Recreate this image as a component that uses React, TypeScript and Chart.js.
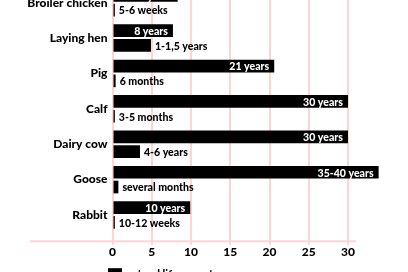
import React, { useEffect, useRef } from 'react';
import { Chart, registerables } from 'chart.js';

Chart.register(...registerables);

const categories = ['Broiler chicken', 'Laying hen', 'Pig', 'Calf', 'Dairy cow', 'Goose', 'Rabbit'];
const naturalLife = [8.3, 7.7, 20.6, 30, 30, 33.9, 9.9];
const naturalLabels = ['8 years', '8 years', '21 years', '30 years', '30 years', '35-40 years', '10 years'];
const slaughterAge = [0.3, 4.9, 0.4, 0.3, 3.5, 0.75, 0.3];
const slaughterLabels = ['5-6 weeks', '1-1,5 years', '6 months', '3-5 months', '4-6 years', 'several months', '10-12 weeks'];
const seriesNames = ['natural life expectancy', 'actual slaughter age'];
const xMin = 0;
const xMax = 30;
const xStep = 5;

const FONT_FAMILY = "Lato, Roboto, 'DejaVu Sans Condensed', sans-serif";
const FONT_WEIGHT = '900';
const PINK = 'rgb(255, 212, 212)';

const CANVAS_W = 408;
const CANVAS_H = 333;
const OFFSET_TOP = 30;

function drawNarrowText(ctx: any, text: string, x: number, y: number, align: 'left' | 'right', sx: number) {
  ctx.save();
  ctx.translate(x, y);
  ctx.scale(sx, 1);
  ctx.textAlign = align;
  ctx.fillText(text, 0, 0);
  ctx.restore();
}

const labelPlugin = {
  id: 'barLabels',
  afterDatasetsDraw(chart: any) {
    const ctx = chart.ctx;
    ctx.save();
    ctx.font = `${FONT_WEIGHT} 12px ${FONT_FAMILY}`;
    ctx.textBaseline = 'middle';
    chart.data.datasets.forEach((ds: any, di: number) => {
      const meta = chart.getDatasetMeta(di);
      meta.data.forEach((el: any, i: number) => {
        if (di === 0) {
          ctx.fillStyle = '#ffffff';
          drawNarrowText(ctx, naturalLabels[i], el.x - 5, el.y + 0.5, 'right', 0.88);
        } else {
          ctx.fillStyle = '#000000';
          drawNarrowText(ctx, slaughterLabels[i], el.x + 4, el.y + 0.5, 'left', 0.88);
        }
      });
    });
    ctx.restore();
  },
};

const axisLinePlugin = {
  id: 'axisLine',
  beforeDatasetsDraw(chart: any) {
    const ctx = chart.ctx;
    const y = chart.chartArea.bottom + 8.5;
    ctx.save();
    ctx.strokeStyle = PINK;
    ctx.lineWidth = 2;
    ctx.beginPath();
    ctx.moveTo(30, y);
    ctx.lineTo(356, y);
    ctx.stroke();
    ctx.restore();
  },
};

const legendPlugin = {
  id: 'customLegend',
  afterDraw(chart: any) {
    const ctx = chart.ctx;
    ctx.save();
    ctx.font = `${FONT_WEIGHT} 12px ${FONT_FAMILY}`;
    ctx.textBaseline = 'middle';
    seriesNames.forEach((name, i) => {
      const cy = chart.chartArea.bottom + 41.5 + i * 20;
      ctx.fillStyle = '#000000';
      ctx.fillRect(108, cy - 6, 14, 12);
      drawNarrowText(ctx, name, 126, cy, 'left', 0.9);
    });
    ctx.restore();
  },
};

export default function App() {
  const canvasRef = useRef<HTMLCanvasElement | null>(null);

  useEffect(() => {
    if (!canvasRef.current) return;
    const chart = new Chart(canvasRef.current, {
      type: 'bar',
      data: {
        labels: categories,
        datasets: [
          {
            label: seriesNames[0],
            data: naturalLife,
            backgroundColor: '#000000',
            borderWidth: 0,
            barPercentage: 0.86,
            categoryPercentage: 0.835,
            clip: false as any,
          },
          {
            label: seriesNames[1],
            data: slaughterAge,
            backgroundColor: '#000000',
            borderWidth: 0,
            barPercentage: 0.86,
            categoryPercentage: 0.835,
            clip: false as any,
          },
        ],
      },
      options: {
        indexAxis: 'y',
        responsive: false,
        animation: false,
        devicePixelRatio: 1,
        layout: { padding: { top: 15, bottom: 40.3, left: 0, right: 60 } },
        plugins: {
          legend: { display: false },
          tooltip: { enabled: false },
        },
        scales: {
          x: {
            type: 'linear',
            min: xMin,
            max: xMax,
            grid: { color: PINK, lineWidth: 2, tickLength: 12, drawTicks: true },
            border: { display: false },
            ticks: {
              stepSize: xStep,
              padding: 0,
              color: '#000000',
              font: { family: FONT_FAMILY, size: 12, weight: FONT_WEIGHT as any },
            },
            afterFit: (scale: any) => {
              scale.height = 30;
            },
          },
          y: {
            type: 'category',
            grid: { display: false, drawTicks: false, tickLength: 0 },
            border: { display: false },
            ticks: {
              padding: 5,
              color: '#000000',
              font: { family: FONT_FAMILY, size: 12, weight: FONT_WEIGHT as any },
            },
            afterFit: (scale: any) => {
              scale.width = 112.5;
            },
          },
        },
      },
      plugins: [axisLinePlugin, labelPlugin, legendPlugin],
    });
    return () => chart.destroy();
  }, []);

  return (
    <div style={{ position: 'fixed', left: 0, top: 0, width: 408, height: 272, overflow: 'hidden', background: '#ffffff' }}>
      <canvas
        ref={canvasRef}
        width={CANVAS_W}
        height={CANVAS_H}
        style={{ position: 'absolute', left: 0, top: -OFFSET_TOP, width: CANVAS_W, height: CANVAS_H }}
      />
    </div>
  );
}
